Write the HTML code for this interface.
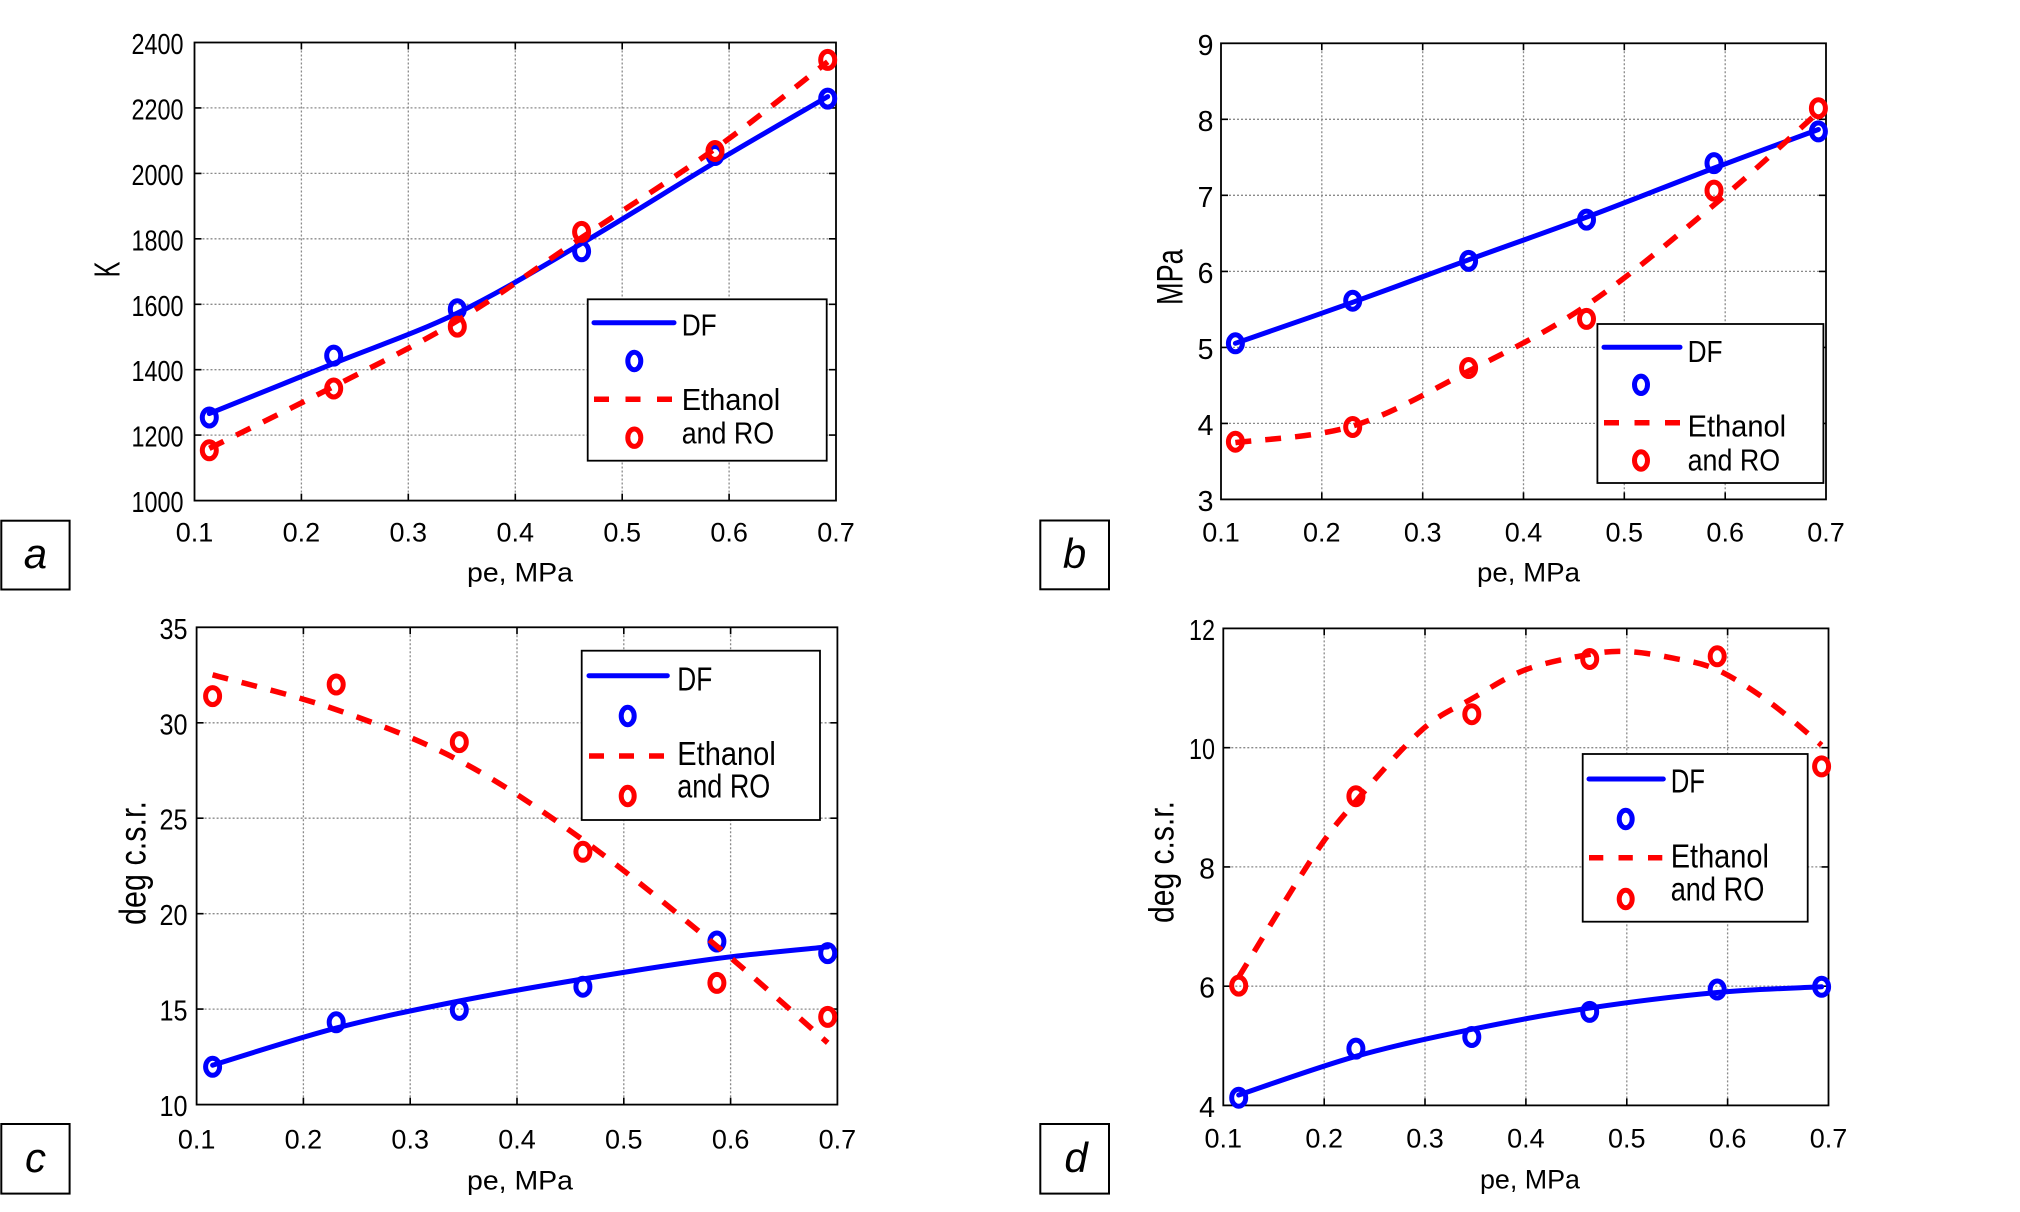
<!DOCTYPE html>
<html>
<head>
<meta charset="utf-8">
<style>
  html, body { margin:0; padding:0; background:#fff; }
  svg { display:block; }
  text { font-family: "Liberation Sans", Arial, sans-serif; fill:#000; }
  .grid { stroke:#8a8a8a; stroke-width:1.3; stroke-dasharray:2 2; fill:none; }
  .tick { stroke:#000; stroke-width:1.6; fill:none; }
  .box { stroke:#000; stroke-width:1.8; fill:none; }
  .blue { stroke:#0000ff; stroke-width:5; fill:none; stroke-linejoin:round; stroke-linecap:round; }
  .red { stroke:#ff0000; stroke-width:5.5; fill:none; stroke-dasharray:16 14; }
  .mb { stroke:#0000ff; stroke-width:5; fill:none; }
  .mr { stroke:#ff0000; stroke-width:5; fill:none; }
  .leg { fill:#fff; stroke:#000; stroke-width:1.8; }
  .yt { font-size:28.5px; text-anchor:end; }
  .xt { font-size:27px; text-anchor:middle; }
  .lbl { fill:#fff; stroke:#000; stroke-width:2; }
</style>
</head>
<body>
<svg width="2020" height="1212" viewBox="0 0 2020 1212" xmlns="http://www.w3.org/2000/svg">
<rect width="2020" height="1212" fill="#fff"/>

<!-- ================= PANEL A ================= -->
<rect x="194.5" y="42.5" width="641.5" height="458.1" fill="#fff"/>
<path class="grid" d="M301.4 42.5V500.6M408.3 42.5V500.6M515.3 42.5V500.6M622.2 42.5V500.6M729.1 42.5V500.6"/>
<path class="grid" d="M194.5 107.9H836M194.5 173.4H836M194.5 238.8H836M194.5 304.3H836M194.5 369.7H836M194.5 435.1H836"/>
<path class="tick" d="M301.4 500.6v-7M408.3 500.6v-7M515.3 500.6v-7M622.2 500.6v-7M729.1 500.6v-7M301.4 42.5v7M408.3 42.5v7M515.3 42.5v7M622.2 42.5v7M729.1 42.5v7M194.5 107.9h7M194.5 173.4h7M194.5 238.8h7M194.5 304.3h7M194.5 369.7h7M194.5 435.1h7M836 107.9h-7M836 173.4h-7M836 238.8h-7M836 304.3h-7M836 369.7h-7M836 435.1h-7"/>
<rect class="box" x="194.5" y="42.5" width="641.5" height="458.1"/>
<g class="yt">
<text x="183.5" y="54" textLength="52" lengthAdjust="spacingAndGlyphs">2400</text>
<text x="183.5" y="119.4" textLength="52" lengthAdjust="spacingAndGlyphs">2200</text>
<text x="183.5" y="184.9" textLength="52" lengthAdjust="spacingAndGlyphs">2000</text>
<text x="183.5" y="250.3" textLength="52" lengthAdjust="spacingAndGlyphs">1800</text>
<text x="183.5" y="315.8" textLength="52" lengthAdjust="spacingAndGlyphs">1600</text>
<text x="183.5" y="381.2" textLength="52" lengthAdjust="spacingAndGlyphs">1400</text>
<text x="183.5" y="446.6" textLength="52" lengthAdjust="spacingAndGlyphs">1200</text>
<text x="183.5" y="512.1" textLength="52" lengthAdjust="spacingAndGlyphs">1000</text>
</g>
<g class="xt">
<text x="194.5" y="541.7">0.1</text><text x="301.4" y="541.7">0.2</text><text x="408.3" y="541.7">0.3</text><text x="515.3" y="541.7">0.4</text><text x="622.2" y="541.7">0.5</text><text x="729.1" y="541.7">0.6</text><text x="836" y="541.7">0.7</text>
</g>
<text x="467" y="581.5" font-size="27" textLength="106" lengthAdjust="spacingAndGlyphs">pe, MPa</text>
<text transform="translate(119.3,277.3) rotate(-90)" font-size="36" textLength="15.7" lengthAdjust="spacingAndGlyphs">K</text>
<path class="blue" d="M209.3,413.6 C230.0,405.2 292.4,380.2 333.7,363.4 C375.0,346.7 416.0,333.1 457.3,313.1 C498.6,293.1 538.7,268.6 581.6,243.5 C624.6,218.4 674.0,186.9 715,162.4 C756.0,137.9 808.9,107.6 827.7,96.6"/>
<g class="mb">
<ellipse cx="209.3" cy="417.5" rx="7" ry="8.5"/><ellipse cx="333.7" cy="355.6" rx="7" ry="8.5"/><ellipse cx="457.3" cy="309.2" rx="7" ry="8.5"/><ellipse cx="581.6" cy="251.3" rx="7" ry="8.5"/><ellipse cx="715" cy="155" rx="7" ry="8.5"/><ellipse cx="827.7" cy="98.6" rx="7" ry="8.5"/>
</g>
<path class="red" d="M209.3,448.4 C230.0,438.1 292.4,407.8 333.7,386.5 C375.0,365.2 416.0,345.6 457.3,320.8 C498.6,296.0 538.7,266.4 581.6,237.7 C624.6,209.0 674.0,178.1 715,148.8 C756.0,119.5 808.9,76.3 827.7,61.8"/>
<g class="mr">
<ellipse cx="209.3" cy="450.3" rx="7" ry="8.5"/><ellipse cx="333.7" cy="388.5" rx="7" ry="8.5"/><ellipse cx="457.3" cy="326.6" rx="7" ry="8.5"/><ellipse cx="581.6" cy="231.9" rx="7" ry="8.5"/><ellipse cx="715" cy="151" rx="7" ry="8.5"/><ellipse cx="827.7" cy="59.9" rx="7" ry="8.5"/>
</g>
<!-- legend a -->
<rect class="leg" x="587.7" y="299.3" width="239" height="161.4"/>
<path class="blue" d="M594 322.7H674" stroke-linecap="butt"/>
<text x="681.7" y="335.7" font-size="31" textLength="35" lengthAdjust="spacingAndGlyphs">DF</text>
<ellipse class="mb" cx="634.3" cy="361" rx="6.5" ry="8.7"/>
<path class="red" d="M594 399.3H674" style="stroke-dasharray:15 16.5"/>
<text x="681.7" y="410" font-size="31" textLength="98.5" lengthAdjust="spacingAndGlyphs">Ethanol</text>
<text x="681.7" y="443.3" font-size="31" textLength="92.5" lengthAdjust="spacingAndGlyphs">and RO</text>
<ellipse class="mr" cx="634.3" cy="437.7" rx="6.5" ry="8.7"/>
<!-- label a -->
<rect class="lbl" x="1.3" y="520.7" width="68.3" height="68.8"/>
<text x="35.4" y="568" font-size="42" font-style="italic" text-anchor="middle">a</text>

<!-- ================= PANEL B ================= -->
<rect x="1221" y="43.3" width="605" height="456.1" fill="#fff"/>
<path class="grid" d="M1321.8 43.3V499.4M1422.7 43.3V499.4M1523.5 43.3V499.4M1624.3 43.3V499.4M1725.2 43.3V499.4"/>
<path class="grid" d="M1221 119.3H1826M1221 195.3H1826M1221 271.4H1826M1221 347.4H1826M1221 423.4H1826"/>
<path class="tick" d="M1321.8 499.4v-7M1422.7 499.4v-7M1523.5 499.4v-7M1624.3 499.4v-7M1725.2 499.4v-7M1321.8 43.3v7M1422.7 43.3v7M1523.5 43.3v7M1624.3 43.3v7M1725.2 43.3v7M1221 119.3h7M1221 195.3h7M1221 271.4h7M1221 347.4h7M1221 423.4h7M1826 119.3h-7M1826 195.3h-7M1826 271.4h-7M1826 347.4h-7M1826 423.4h-7"/>
<rect class="box" x="1221" y="43.3" width="605" height="456.1"/>
<g class="yt">
<text x="1213.5" y="54.9">9</text><text x="1213.5" y="130.9">8</text><text x="1213.5" y="206.9">7</text><text x="1213.5" y="283">6</text><text x="1213.5" y="359">5</text><text x="1213.5" y="435">4</text><text x="1213.5" y="511">3</text>
</g>
<g class="xt">
<text x="1221" y="541.5">0.1</text><text x="1321.8" y="541.5">0.2</text><text x="1422.7" y="541.5">0.3</text><text x="1523.5" y="541.5">0.4</text><text x="1624.3" y="541.5">0.5</text><text x="1725.2" y="541.5">0.6</text><text x="1826" y="541.5">0.7</text>
</g>
<text x="1477" y="581.5" font-size="27" textLength="103" lengthAdjust="spacingAndGlyphs">pe, MPa</text>
<text transform="translate(1182.7,305) rotate(-90)" font-size="37" textLength="55.7" lengthAdjust="spacingAndGlyphs">MPa</text>
<path class="blue" d="M1235.4,343.3 C1255.0,336.5 1313.8,316.2 1352.7,302.3 C1391.6,288.4 1429.6,274.0 1468.6,259.8 C1507.6,245.6 1545.6,232.5 1586.5,217.2 C1627.4,201.9 1675.4,182.7 1714,168.1 C1752.7,153.5 1801.0,135.9 1818.4,129.5"/>
<g class="mb">
<ellipse cx="1235.4" cy="343.3" rx="7" ry="8.5"/><ellipse cx="1352.7" cy="300.7" rx="7" ry="8.5"/><ellipse cx="1468.6" cy="260.9" rx="7" ry="8.5"/><ellipse cx="1586.5" cy="219.6" rx="7" ry="8.5"/><ellipse cx="1714" cy="163.1" rx="7" ry="8.5"/><ellipse cx="1818.4" cy="131.4" rx="7" ry="8.5"/>
</g>
<path class="red" d="M1235.4,442.6 C1255.0,439.8 1313.8,437.9 1352.7,426 C1391.6,414.1 1429.6,391.2 1468.6,371.1 C1507.6,351.0 1545.6,333.1 1586.5,305.4 C1627.4,277.7 1675.4,237.1 1714,204.9 C1752.7,172.7 1801.0,127.6 1818.4,112.1"/>
<g class="mr">
<ellipse cx="1235.4" cy="441.7" rx="7" ry="8.5"/><ellipse cx="1352.7" cy="427" rx="7" ry="8.5"/><ellipse cx="1468.6" cy="368" rx="7" ry="8.5"/><ellipse cx="1586.5" cy="318.9" rx="7" ry="8.5"/><ellipse cx="1714" cy="190.6" rx="7" ry="8.5"/><ellipse cx="1818.4" cy="108.2" rx="7" ry="8.5"/>
</g>
<!-- legend b -->
<rect class="leg" x="1597.4" y="324" width="226" height="159"/>
<path class="blue" d="M1604 347.2H1680" stroke-linecap="butt"/>
<text x="1687.6" y="362" font-size="31" textLength="35" lengthAdjust="spacingAndGlyphs">DF</text>
<ellipse class="mb" cx="1641" cy="384.8" rx="6.5" ry="8.7"/>
<path class="red" d="M1604 422.8H1680" style="stroke-dasharray:15 15.5"/>
<text x="1687.6" y="436.5" font-size="31" textLength="98.5" lengthAdjust="spacingAndGlyphs">Ethanol</text>
<text x="1687.6" y="470.5" font-size="31" textLength="92.5" lengthAdjust="spacingAndGlyphs">and RO</text>
<ellipse class="mr" cx="1641" cy="460.5" rx="6.5" ry="8.7"/>
<!-- label b -->
<rect class="lbl" x="1040.3" y="520.5" width="68.7" height="68.8"/>
<text x="1074.5" y="568" font-size="42" font-style="italic" text-anchor="middle">b</text>

<!-- ================= PANEL C ================= -->
<rect x="196.6" y="627.3" width="640.8" height="477.3" fill="#fff"/>
<path class="grid" d="M303.4 627.3V1104.6M410.2 627.3V1104.6M517 627.3V1104.6M623.8 627.3V1104.6M730.6 627.3V1104.6"/>
<path class="grid" d="M196.6 722.8H837.4M196.6 818.2H837.4M196.6 913.7H837.4M196.6 1009.1H837.4"/>
<path class="tick" d="M303.4 1104.6v-7M410.2 1104.6v-7M517 1104.6v-7M623.8 1104.6v-7M730.6 1104.6v-7M303.4 627.3v7M410.2 627.3v7M517 627.3v7M623.8 627.3v7M730.6 627.3v7M196.6 722.8h7M196.6 818.2h7M196.6 913.7h7M196.6 1009.1h7M837.4 722.8h-7M837.4 818.2h-7M837.4 913.7h-7M837.4 1009.1h-7"/>
<rect class="box" x="196.6" y="627.3" width="640.8" height="477.3"/>
<g class="yt">
<text x="187.5" y="638.8" textLength="28" lengthAdjust="spacingAndGlyphs">35</text>
<text x="187.5" y="734.3" textLength="28" lengthAdjust="spacingAndGlyphs">30</text>
<text x="187.5" y="829.7" textLength="28" lengthAdjust="spacingAndGlyphs">25</text>
<text x="187.5" y="925.2" textLength="28" lengthAdjust="spacingAndGlyphs">20</text>
<text x="187.5" y="1020.6" textLength="28" lengthAdjust="spacingAndGlyphs">15</text>
<text x="187.5" y="1116.1" textLength="28" lengthAdjust="spacingAndGlyphs">10</text>
</g>
<g class="xt">
<text x="196.6" y="1148.5">0.1</text><text x="303.4" y="1148.5">0.2</text><text x="410.2" y="1148.5">0.3</text><text x="517" y="1148.5">0.4</text><text x="623.8" y="1148.5">0.5</text><text x="730.6" y="1148.5">0.6</text><text x="837.4" y="1148.5">0.7</text>
</g>
<text x="467" y="1189.5" font-size="27" textLength="106" lengthAdjust="spacingAndGlyphs">pe, MPa</text>
<text transform="translate(145.5,925) rotate(-90)" font-size="37" textLength="124" lengthAdjust="spacingAndGlyphs">deg c.s.r.</text>
<path class="blue" d="M212.6,1065.2 C233.2,1059.0 295.1,1038.8 336.2,1028.1 C377.3,1017.4 418.2,1009.2 459.3,1001 C500.4,992.8 540.0,986.1 582.9,979 C625.8,971.9 676.1,963.9 716.9,958.5 C757.7,953.2 809.2,948.8 827.7,946.9"/>
<g class="mb">
<ellipse cx="212.6" cy="1066.8" rx="7" ry="8.5"/><ellipse cx="336.2" cy="1022.3" rx="7" ry="8.5"/><ellipse cx="459.3" cy="1009.9" rx="7" ry="8.5"/><ellipse cx="582.9" cy="986.7" rx="7" ry="8.5"/><ellipse cx="716.9" cy="941.5" rx="7" ry="8.5"/><ellipse cx="827.7" cy="953.1" rx="7" ry="8.5"/>
</g>
<path class="red" d="M212.6,674.8 C233.2,680.6 295.1,695.3 336.2,709.6 C377.3,723.9 418.2,738.9 459.3,760.6 C500.4,782.3 540.0,809.0 582.9,839.9 C625.8,870.8 676.1,912.4 716.9,946.2 C757.7,980.0 809.2,1026.7 827.7,1042.8"/>
<g class="mr">
<ellipse cx="212.6" cy="696.1" rx="7" ry="8.5"/><ellipse cx="336.2" cy="684.5" rx="7" ry="8.5"/><ellipse cx="459.3" cy="742.1" rx="7" ry="8.5"/><ellipse cx="582.9" cy="851.8" rx="7" ry="8.5"/><ellipse cx="716.9" cy="982.9" rx="7" ry="8.5"/><ellipse cx="827.7" cy="1016.9" rx="7" ry="8.5"/>
</g>
<!-- legend c -->
<rect class="leg" x="581.7" y="650.7" width="238.3" height="169.3"/>
<path class="blue" d="M589 675.7H667.3" stroke-linecap="butt"/>
<text x="677.3" y="690.7" font-size="33" textLength="35" lengthAdjust="spacingAndGlyphs">DF</text>
<ellipse class="mb" cx="627.7" cy="716" rx="6.5" ry="8.7"/>
<path class="red" d="M589 756H667.3" style="stroke-dasharray:15 15"/>
<text x="677.3" y="765" font-size="33" textLength="98.5" lengthAdjust="spacingAndGlyphs">Ethanol</text>
<text x="677.3" y="797.3" font-size="33" textLength="93" lengthAdjust="spacingAndGlyphs">and RO</text>
<ellipse class="mr" cx="627.7" cy="796" rx="6.5" ry="8.7"/>
<!-- label c -->
<rect class="lbl" x="1.3" y="1124" width="68.3" height="69.6"/>
<text x="35.5" y="1172" font-size="42" font-style="italic" text-anchor="middle">c</text>

<!-- ================= PANEL D ================= -->
<rect x="1223.3" y="628.4" width="605.2" height="477" fill="#fff"/>
<path class="grid" d="M1324.2 628.4V1105.4M1425 628.4V1105.4M1525.9 628.4V1105.4M1626.8 628.4V1105.4M1727.6 628.4V1105.4"/>
<path class="grid" d="M1223.3 747.7H1828.5M1223.3 866.9H1828.5M1223.3 986.2H1828.5"/>
<path class="tick" d="M1324.2 1105.4v-7M1425 1105.4v-7M1525.9 1105.4v-7M1626.8 1105.4v-7M1727.6 1105.4v-7M1324.2 628.4v7M1425 628.4v7M1525.9 628.4v7M1626.8 628.4v7M1727.6 628.4v7M1223.3 747.7h7M1223.3 866.9h7M1223.3 986.2h7M1828.5 747.7h-7M1828.5 866.9h-7M1828.5 986.2h-7"/>
<rect class="box" x="1223.3" y="628.4" width="605.2" height="477"/>
<g class="yt">
<text x="1215" y="639.9" textLength="26" lengthAdjust="spacingAndGlyphs">12</text>
<text x="1215" y="759.2" textLength="26" lengthAdjust="spacingAndGlyphs">10</text>
<text x="1215" y="878.4">8</text>
<text x="1215" y="997.7">6</text>
<text x="1215" y="1116.9">4</text>
</g>
<g class="xt">
<text x="1223.3" y="1147.5">0.1</text><text x="1324.2" y="1147.5">0.2</text><text x="1425" y="1147.5">0.3</text><text x="1525.9" y="1147.5">0.4</text><text x="1626.8" y="1147.5">0.5</text><text x="1727.6" y="1147.5">0.6</text><text x="1828.5" y="1147.5">0.7</text>
</g>
<text x="1480" y="1188.5" font-size="27" textLength="100" lengthAdjust="spacingAndGlyphs">pe, MPa</text>
<text transform="translate(1173.4,923) rotate(-90)" font-size="35" textLength="122" lengthAdjust="spacingAndGlyphs">deg c.s.r.</text>
<path class="blue" d="M1238.7,1095 C1258.2,1088.6 1317.1,1067.3 1355.9,1056.3 C1394.8,1045.4 1432.8,1037.4 1471.8,1029.3 C1510.8,1021.3 1548.8,1014.1 1589.7,1008 C1630.6,1001.9 1678.6,996.0 1717.2,992.5 C1755.9,989.0 1804.2,987.8 1821.6,986.8"/>
<g class="mb">
<ellipse cx="1238.7" cy="1097.7" rx="7" ry="8.5"/><ellipse cx="1355.9" cy="1048.6" rx="7" ry="8.5"/><ellipse cx="1471.8" cy="1037" rx="7" ry="8.5"/><ellipse cx="1589.7" cy="1011.9" rx="7" ry="8.5"/><ellipse cx="1717.2" cy="989.5" rx="7" ry="8.5"/><ellipse cx="1821.6" cy="986.8" rx="7" ry="8.5"/>
</g>
<path class="red" d="M1238.7,977.1 C1251.0,957.1 1293.2,886.6 1312.7,857.3 C1332.2,828.0 1337.7,822.5 1355.9,801.2 C1374.2,779.9 1402.9,746.8 1422.2,729.7 C1441.5,712.6 1454.6,708.8 1471.8,698.8 C1489.0,688.8 1505.7,677.2 1525.3,669.8 C1544.9,662.4 1572.5,657.3 1589.7,654.3 C1606.9,651.3 1614.5,651.0 1628.4,651.6 C1642.4,652.3 1658.6,655.2 1673.4,658.2 C1688.2,661.2 1701.1,662.4 1717.2,669.8 C1733.3,677.2 1752.7,690.0 1770.1,702.6 C1787.5,715.2 1813.0,738.1 1821.6,745.2"/>
<g class="mr">
<ellipse cx="1238.7" cy="985.6" rx="7" ry="8.5"/><ellipse cx="1355.9" cy="796.2" rx="7" ry="8.5"/><ellipse cx="1471.8" cy="714.2" rx="7" ry="8.5"/><ellipse cx="1589.7" cy="659" rx="7" ry="8.5"/><ellipse cx="1717.2" cy="656.3" rx="7" ry="8.5"/><ellipse cx="1821.6" cy="766.4" rx="7" ry="8.5"/>
</g>
<!-- legend d -->
<rect class="leg" x="1582.7" y="754" width="225" height="167.7"/>
<path class="blue" d="M1589 779H1663.3" stroke-linecap="butt"/>
<text x="1670.7" y="792.3" font-size="33" textLength="34.3" lengthAdjust="spacingAndGlyphs">DF</text>
<ellipse class="mb" cx="1625.7" cy="819" rx="6.5" ry="8.7"/>
<path class="red" d="M1589 857.7H1663.3" style="stroke-dasharray:14.3 15.2"/>
<text x="1670.7" y="867.3" font-size="33" textLength="98.3" lengthAdjust="spacingAndGlyphs">Ethanol</text>
<text x="1670.7" y="900.7" font-size="33" textLength="93.7" lengthAdjust="spacingAndGlyphs">and RO</text>
<ellipse class="mr" cx="1625.7" cy="899" rx="6.5" ry="8.7"/>
<!-- label d -->
<rect class="lbl" x="1040.3" y="1124" width="68.7" height="69.6"/>
<text x="1076" y="1172" font-size="42" font-style="italic" text-anchor="middle">d</text>
</svg>
</body>
</html>
